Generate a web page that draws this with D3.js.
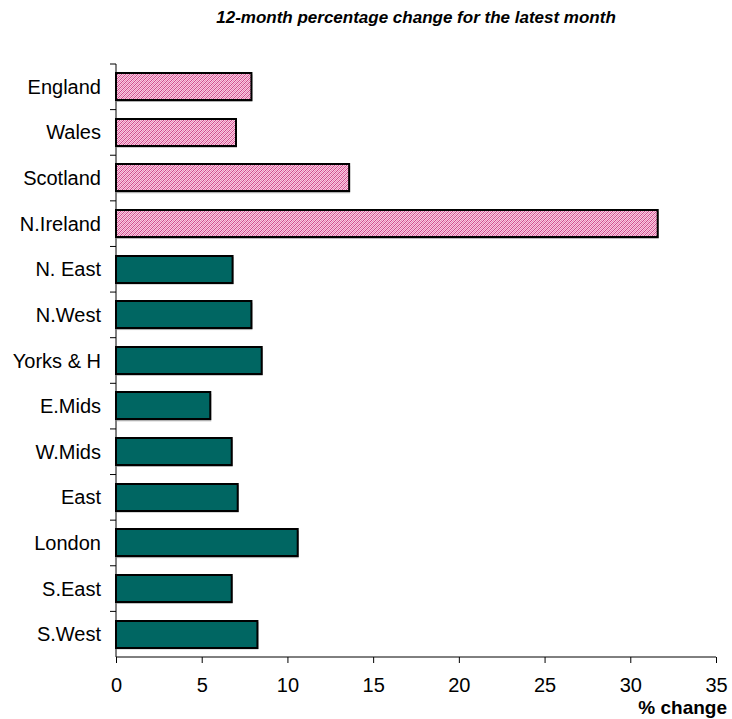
<!DOCTYPE html>
<html>
<head>
<meta charset="utf-8">
<script src="https://cdn.jsdelivr.net/npm/d3@7"></script>
<style>
  body { margin: 0; background: #fff; }
  text { font-family: "Liberation Sans", Arial, sans-serif; }
</style>
</head>
<body>
<div class="svg"></div>
<script>
const regions = ["England", "Wales", "Scotland", "N.Ireland", "N. East", "N.West", "Yorks & H",
                 "E.Mids", "W.Mids", "East", "London", "S.East", "S.West"];
const pctChange = [7.9, 7.0, 13.6, 31.6, 6.8, 7.9, 8.5, 5.5, 6.75, 7.1, 10.6, 6.75, 8.25];
const countries = ["England", "Wales", "Scotland", "N.Ireland"];
const xTicks = [0, 5, 10, 15, 20, 25, 30, 35];

const w = 732;
const h = 719;
const margin = {top: 64, right: 16, bottom: 62, left: 116};

const svg = d3.select(".svg")
    .append("svg")
    .attr("width", w)
    .attr("height", h);

// hatch for the countries
const defs = svg.append("defs");
const pat = defs.append("pattern")
    .attr("id", "hatch")
    .attr("width", 4)
    .attr("height", 4)
    .attr("patternUnits", "userSpaceOnUse")
    .attr("shape-rendering", "crispEdges");
pat.append("rect").attr("width", 4).attr("height", 4).attr("fill", "#f6cde1");
[[0, 3], [1, 2], [2, 1], [3, 0]].forEach(p => {
    pat.append("rect").attr("x", p[0]).attr("y", p[1]).attr("width", 1).attr("height", 1).attr("fill", "#d0478a");
});
[[0, 1], [1, 0], [2, 3], [3, 2]].forEach(p => {
    pat.append("rect").attr("x", p[0]).attr("y", p[1]).attr("width", 1).attr("height", 1).attr("fill", "#ea84b5");
});

let xScale = d3.scaleLinear()
    .domain([0, 35])
    .range([margin.left, w - margin.right]);

let yScale = d3.scaleBand()
    .domain(regions)
    .range([margin.top, h - margin.bottom])
    .paddingInner(0.4)
    .paddingOuter(0.2);

// title
svg.append("text")
    .attr("x", 416)
    .attr("y", 23)
    .attr("text-anchor", "middle")
    .style("font-size", "17px")
    .style("font-weight", "bold")
    .style("font-style", "italic")
    .text("12-month percentage change for the latest month");

// bar shadows
svg.selectAll(".shadow")
    .data(regions)
    .enter()
    .append("rect")
    .attr("class", "shadow")
    .attr("x", xScale(0) + 1)
    .attr("y", d => yScale(d) + 1.5)
    .attr("width", (d, i) => xScale(pctChange[i]) - xScale(0))
    .attr("height", yScale.bandwidth())
    .attr("fill", "#b0b0b0");

svg.selectAll(".bar")
    .data(regions)
    .enter()
    .append("rect")
    .attr("class", "bar")
    .attr("x", xScale(0))
    .attr("y", d => Math.round(yScale(d)))
    .attr("width", (d, i) => xScale(pctChange[i]) - xScale(0))
    .attr("height", Math.round(yScale.bandwidth()))
    .attr("fill", d => countries.includes(d) ? "url(#hatch)" : "#006662")
    .attr("stroke", "#000")
    .attr("stroke-width", 2);

// x axis
const xAxis = d3.axisBottom(xScale)
    .tickValues(xTicks)
    .tickSize(6)
    .tickPadding(15)
    .tickFormat(d3.format("d"));
const gx = svg.append("g")
    .attr("transform", "translate(0," + (h - margin.bottom) + ")")
    .call(xAxis);
gx.select(".domain").attr("d", "M" + xScale(0) + ",0H" + xScale(35));
gx.selectAll("text").style("font-size", "20px").attr("fill", "#000");

// y axis with ticks between categories
const gy = svg.append("g")
    .attr("transform", "translate(" + margin.left + ",0)");
gy.append("line")
    .attr("y1", margin.top)
    .attr("y2", h - margin.bottom)
    .attr("stroke", "#000");
const step = yScale.step();
const bounds = regions.map(d => yScale(d) - step * 0.2);
gy.selectAll(".tk")
    .data(bounds)
    .enter()
    .append("line")
    .attr("x1", -6)
    .attr("x2", 0)
    .attr("y1", d => d)
    .attr("y2", d => d)
    .attr("stroke", "#000");
gy.selectAll(".lbl")
    .data(regions)
    .enter()
    .append("text")
    .attr("x", -15)
    .attr("y", d => yScale(d) + yScale.bandwidth() / 2)
    .attr("dy", "0.35em")
    .attr("text-anchor", "end")
    .style("font-size", "20px")
    .text(d => d);

// x axis title
svg.append("text")
    .attr("x", 727)
    .attr("y", 714)
    .attr("text-anchor", "end")
    .style("font-size", "19px")
    .style("font-weight", "bold")
    .text("% change");
</script>
</body>
</html>
